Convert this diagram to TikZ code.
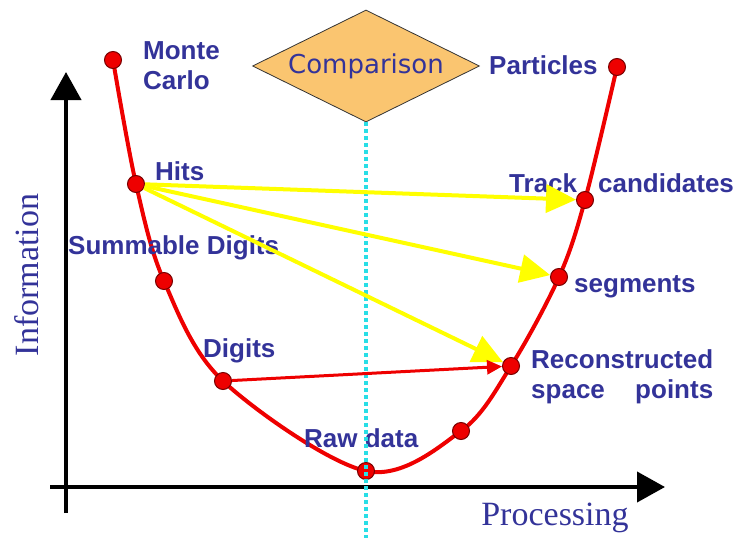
\documentclass[tikz,border=0pt]{standalone}
\usepackage{fontspec}
\setmainfont{Liberation Serif}
\setsansfont{Liberation Sans}
\newfontfamily\compfont{DejaVu Sans}
\usepackage{xcolor}
\definecolor{chnavy}{RGB}{51,51,153}
\definecolor{chred}{RGB}{238,0,0}
\definecolor{chdarkred}{RGB}{120,0,0}
\definecolor{chyellow}{RGB}{255,255,0}
\definecolor{chorange}{RGB}{250,197,112}
\definecolor{chcyan}{RGB}{40,222,230}
\usetikzlibrary{arrows.meta, shapes.geometric, backgrounds}

\begin{document}
\begin{tikzpicture}[
  x=1pt, y=-1pt,
  stage/.style={circle, fill=chred, draw=chdarkred, line width=1pt,
                minimum size=17pt, inner sep=0pt},
  lbl/.style={font=\sffamily\bfseries\fontsize{26}{30}\selectfont,
              text=chnavy, inner sep=0pt},
  axislbl/.style={font=\fontsize{34}{40}\selectfont, text=chnavy, inner sep=0pt},
  flow/.style={-{Triangle[length=30pt, width=28pt]}, chyellow, line width=4pt},
  >=Stealth
]
\useasboundingbox (0,0) rectangle (744,538);

% --- Axes ---
\coordinate (yfoot) at (66,513);
\coordinate (ytip) at (66,72);
\coordinate (xfoot) at (50,487);
\coordinate (xtip) at (665,487);
\draw[line width=4pt, -{Triangle[length=28pt, width=30pt]}] (yfoot) -- (ytip);
\draw[line width=4pt, -{Triangle[length=28pt, width=30pt]}] (xfoot) -- (xtip);

\node[axislbl, rotate=90, anchor=base] (infolbl) at (38,275) {Information};
\node[axislbl, anchor=base] (proclbl) at (555,525) {Processing};

% --- Comparison diamond ---
\node[diamond, draw=black!80, fill=chorange, line width=0.8pt, shape aspect=2,
      minimum width=227pt, minimum height=112pt, inner sep=0pt,
      font=\compfont\fontsize{26}{30}\selectfont, text=chnavy]
      (comp) at (366,66) {Comparison};

% --- Stages on the curve ---
\node[stage] (mc) at (113,60) {};
\node[stage] (hits) at (136,184) {};
\node[stage] (sdig) at (164,281) {};
\node[stage] (dig) at (223,381) {};
\node[stage] (raw) at (366,471) {};
\node[stage] (mid) at (461,431) {};
\node[stage] (rsp) at (511,366) {};
\node[stage] (seg) at (559,277) {};
\node[stage] (trk) at (585,200) {};
\node[stage] (part) at (617,67) {};

% curve behind the dots
\begin{scope}[on background layer]
\draw[chred, line width=4pt] plot[smooth, tension=0.55] coordinates {
  (mc.center) (hits.center) (sdig.center) (dig.center) (raw.center)
  (mid.center) (rsp.center) (seg.center) (trk.center) (part.center)};
\end{scope}

% --- Labels ---
\node[lbl, anchor=north west, align=left] (mclbl) at (143,41) {Monte\\Carlo};
\node[lbl, anchor=base west] (hitslbl) at (155,180) {Hits};
\node[lbl, anchor=base west] (sdiglbl) at (68,254) {Summable Digits};
\node[lbl, anchor=base west] (diglbl) at (203,357) {Digits};
\node[lbl, anchor=base west] (rawlbl) at (304,447) {Raw data};
\node[lbl, anchor=north west, align=left] (rsplbl) at (531,349)
      {Reconstructed\\space\hfill points};
\node[lbl, anchor=base west] (seglbl) at (574,292) {segments};
\node[lbl, anchor=base west] (trklbl) at (509,192) {Track\hspace{21pt}candidates};
\node[lbl, anchor=base west] (partlbl) at (489,74) {Particles};

% dotted line down from the diamond
\coordinate (vbottom) at (366,538);
\draw[chcyan, line width=4pt, dash pattern=on 4pt off 3pt] (comp.south) -- (vbottom);

% --- Shortcuts from Hits and Digits ---
\draw[flow] (hits) -- (trk);
\draw[flow] (hits) -- (seg);
\draw[flow] (hits) -- (rsp);
\draw[-{Triangle[length=15pt, width=14pt]}, chred, line width=3pt] (dig) -- (rsp);

\end{tikzpicture}
\end{document}
